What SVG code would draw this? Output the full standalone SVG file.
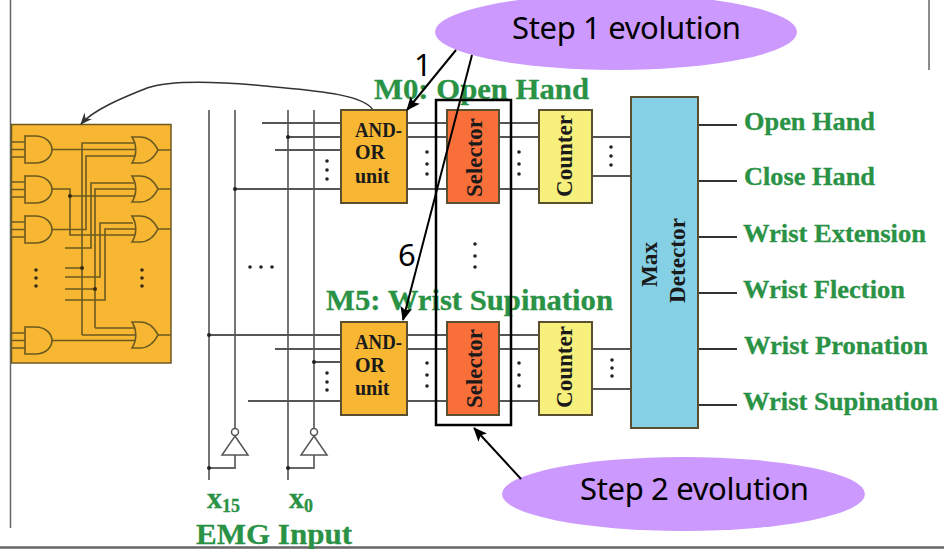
<svg xmlns="http://www.w3.org/2000/svg" width="944" height="549" viewBox="0 0 944 549">
<style>
.w{fill:none;stroke:#555;stroke-width:2}
.v{fill:none;stroke:#666;stroke-width:1.800}
.b{fill:none;stroke:#6b5a20;stroke-width:1.600}
.g{fill:#f7b733;stroke:#6b5a20;stroke-width:1.600}
.box{stroke:#5a5030;stroke-width:2}
.d{fill:#222}
.t{font-family:"Liberation Serif",serif;font-weight:bold;fill:#2a9245;stroke:#2a9245;stroke-width:.3}
.k{font-family:"Liberation Serif",serif;font-weight:bold;fill:#1a1a1a;font-size:20px}
.r{font-family:"Liberation Serif",serif;font-weight:bold;fill:#1a1a1a;font-size:23px}
.s{font-family:"Noto Sans","DejaVu Sans",sans-serif;fill:#000;font-size:31px}
.a{fill:none;stroke:#000;stroke-width:2}
</style>
<defs>
<marker id="ah" markerWidth="14" markerHeight="12" refX="13" refY="6" orient="auto" markerUnits="userSpaceOnUse"><path d="M0,0L14,6L0,12L3,6Z" fill="#000"/></marker>
<marker id="ahs" markerWidth="12" markerHeight="10" refX="11" refY="5" orient="auto" markerUnits="userSpaceOnUse"><path d="M0,0L12,5L0,10L4,5Z" fill="#333"/></marker>
<path id="andg" d="M0,0H10C22,0 27,8 27,13.500C27,19 22,27 10,27H0Z"/>
<path id="org" d="M0,0H8C17,0 23,7 26,13C23,19 17,26 8,26H0C5,18 5,8 0,0Z"/>
</defs>
<rect width="944" height="549" fill="#fff"/>
<g id="frame" fill="none" stroke="#666" stroke-width="1.500">
<path d="M10.500,0V528"/><path d="M929,0V70"/><path d="M0,547.500H944" stroke-width="2.500"/>
</g>
<g id="logic-block">
<rect x="11.500" y="124.500" width="159.500" height="238.500" fill="#f7b733" stroke="#6b5a20" stroke-width="1.500"/>
<g class="b">
<path d="M11,142H25M11,149.500H25M11,157H25M11,182H25M11,189.500H25M11,197H25M11,222H25M11,229.500H25M11,237H25M11,333H25M11,340.500H25M11,348H25"/>
<path d="M52,149.500H135M52,189H70V235H135M52,229.500H86V156H136M52,340.500H135"/>
<path d="M82,335V143H134M82,335H135M65,268H82"/>
<path d="M65,248H91V183H134M95,328V189H136M95,328H134M65,289H95"/>
<path d="M65,277H100V223H133M65,300H105V229H136M70,196H136"/>
<path d="M157,150H171M158,189H171M157,229H171M157,335H171"/>
</g>
<use href="#andg" x="25" y="136" class="g"/><use href="#andg" x="25" y="176" class="g"/><use href="#andg" x="25" y="216" class="g"/><use href="#andg" x="25" y="327" class="g"/>
<use href="#org" x="132" y="137" class="g"/><use href="#org" x="132" y="176" class="g"/><use href="#org" x="132" y="216" class="g"/><use href="#org" x="132" y="322" class="g"/>
<g fill="#3a2a10"><circle cx="70" cy="196" r="2"/><circle cx="82" cy="268" r="2"/><circle cx="95" cy="289" r="2"/>
<circle cx="36" cy="270" r="1.800"/><circle cx="36" cy="278" r="1.800"/><circle cx="36" cy="286" r="1.800"/><circle cx="142" cy="270" r="1.800"/><circle cx="142" cy="278" r="1.800"/><circle cx="142" cy="286" r="1.800"/></g>
</g>
<g id="connectors">
<path class="v" d="M209,110V480M235,110V428M288,110V480M314,110V428"/>
<path class="w" d="M262,123H341M288,137H341M275,150H341M235,189H341"/>
<path class="w" d="M407,123H447M407,137H447M407,189H447M499,123H539M499,137H539M499,189H539M592,137H631M592,176H631"/>
<path class="w" d="M209,335H341M275,349H341M314,362H341M248,401H341"/>
<path class="w" d="M407,335H447M407,349H447M407,401H447M499,335H539M499,349H539M499,401H539M592,349H631M592,389H631"/>
<path class="w" d="M698,125H737M698,181H737M698,237H737M698,293H737M698,349H737M698,405H737" style="stroke:#333"/>
<path class="v" d="M235,455V468H209M314,455V468H288"/>
<g class="d"><circle cx="235" cy="189" r="2"/><circle cx="288" cy="137" r="2"/><circle cx="209" cy="335" r="2"/><circle cx="314" cy="362" r="2"/><circle cx="209" cy="468" r="2"/><circle cx="288" cy="468" r="2"/></g>
<path d="M373,110C362,92 300,90 255,85C220,82 170,80 147,88C130,95 95,108 81,124" fill="none" stroke="#333" stroke-width="1.500" marker-end="url(#ahs)"/>
</g>
<g id="inverter-x15"><path d="M235,436L248,455H222Z" fill="#fff" stroke="#555" stroke-width="1.500"/><circle cx="235" cy="432" r="3.500" fill="#fff" stroke="#555" stroke-width="1.500"/></g>
<g id="inverter-x0"><path d="M314,436L327,455H301Z" fill="#fff" stroke="#555" stroke-width="1.500"/><circle cx="314" cy="432" r="3.500" fill="#fff" stroke="#555" stroke-width="1.500"/></g>
<g id="dots" class="d">
<circle cx="250" cy="267" r="1.800"/><circle cx="261" cy="267" r="1.800"/><circle cx="272" cy="267" r="1.800"/>
<circle cx="327" cy="161" r="1.800"/><circle cx="327" cy="170" r="1.800"/><circle cx="327" cy="179" r="1.800"/>
<circle cx="427" cy="152" r="1.800"/><circle cx="427" cy="164" r="1.800"/><circle cx="427" cy="174" r="1.800"/>
<circle cx="519" cy="152" r="1.800"/><circle cx="519" cy="164" r="1.800"/><circle cx="519" cy="174" r="1.800"/>
<circle cx="611" cy="147" r="1.800"/><circle cx="611" cy="156" r="1.800"/><circle cx="611" cy="165" r="1.800"/>
<circle cx="475" cy="244" r="1.800"/><circle cx="475" cy="256" r="1.800"/><circle cx="475" cy="267" r="1.800"/>
<circle cx="327" cy="373" r="1.800"/><circle cx="327" cy="382" r="1.800"/><circle cx="327" cy="390" r="1.800"/>
<circle cx="427" cy="363" r="1.800"/><circle cx="427" cy="375" r="1.800"/><circle cx="427" cy="386" r="1.800"/>
<circle cx="519" cy="363" r="1.800"/><circle cx="519" cy="375" r="1.800"/><circle cx="519" cy="386" r="1.800"/>
<circle cx="612" cy="360" r="1.800"/><circle cx="612" cy="368" r="1.800"/><circle cx="612" cy="376" r="1.800"/>
</g>
<g id="and-or-0"><rect class="box" x="341" y="110" width="66" height="93" fill="#f7b733"/><text class="k" x="355" y="137" textLength="47" lengthAdjust="spacingAndGlyphs">AND-</text><text class="k" x="355" y="159">OR</text><text class="k" x="355" y="183">unit</text></g>
<g id="selector-0"><rect class="box" x="447" y="110" width="52" height="93" fill="#f96f3a"/><text class="r" textLength="79" lengthAdjust="spacingAndGlyphs" transform="translate(482,197) rotate(-90)">Selector</text></g>
<g id="counter-0"><rect class="box" x="539" y="110" width="53" height="93" fill="#f7f07c"/><text class="r" textLength="82" lengthAdjust="spacingAndGlyphs" transform="translate(572,197) rotate(-90)">Counter</text></g>
<g id="and-or-5"><rect class="box" x="341" y="322" width="66" height="93" fill="#f7b733"/><text class="k" x="355" y="349" textLength="47" lengthAdjust="spacingAndGlyphs">AND-</text><text class="k" x="355" y="372">OR</text><text class="k" x="355" y="395">unit</text></g>
<g id="selector-5"><rect class="box" x="447" y="322" width="52" height="93" fill="#f96f3a"/><text class="r" textLength="79" lengthAdjust="spacingAndGlyphs" transform="translate(482,408) rotate(-90)">Selector</text></g>
<g id="counter-5"><rect class="box" x="539" y="322" width="53" height="93" fill="#f7f07c"/><text class="r" textLength="82" lengthAdjust="spacingAndGlyphs" transform="translate(572,408) rotate(-90)">Counter</text></g>
<g id="max-detector"><rect class="box" x="631" y="97" width="67" height="331" fill="#85d0e4"/><text class="r" textLength="45" lengthAdjust="spacingAndGlyphs" transform="translate(657,287) rotate(-90)">Max</text><text class="r" textLength="85" lengthAdjust="spacingAndGlyphs" transform="translate(685,303) rotate(-90)">Detector</text></g>
<g id="labels">
<text class="t" x="374" y="99" font-size="30" textLength="215" lengthAdjust="spacingAndGlyphs">M0: Open Hand</text>
<text class="t" x="326" y="310" font-size="30" textLength="287" lengthAdjust="spacingAndGlyphs">M5: Wrist Supination</text>
<g font-size="26"><text class="t" x="744" y="130" textLength="131" lengthAdjust="spacingAndGlyphs">Open Hand</text><text class="t" x="744" y="185" textLength="131" lengthAdjust="spacingAndGlyphs">Close Hand</text><text class="t" x="743" y="242" textLength="183" lengthAdjust="spacingAndGlyphs">Wrist Extension</text><text class="t" x="743" y="298" textLength="162" lengthAdjust="spacingAndGlyphs">Wrist Flection</text><text class="t" x="744" y="354" textLength="184" lengthAdjust="spacingAndGlyphs">Wrist Pronation</text><text class="t" x="743" y="410" textLength="195" lengthAdjust="spacingAndGlyphs">Wrist Supination</text></g>
<text class="t" x="207" y="508" font-size="30">x<tspan font-size="18" dy="4">15</tspan></text>
<text class="t" x="289" y="508" font-size="30">x<tspan font-size="18" dy="4">0</tspan></text>
<text class="t" x="196" y="544" font-size="30" textLength="156" lengthAdjust="spacingAndGlyphs">EMG Input</text>
</g>
<rect id="selection-frame" x="436" y="100" width="75" height="325" fill="none" stroke="#000" stroke-width="2.500"/>
<g id="step-1"><ellipse cx="616" cy="32" rx="181" ry="38" fill="#cc99ff"/><text class="s" x="512" y="39" textLength="229">Step 1 evolution</text></g>
<g id="step-2"><ellipse cx="683.500" cy="494" rx="181.500" ry="37" fill="#cc99ff"/><text class="s" x="580" y="500" textLength="229">Step 2 evolution</text></g>
<g id="annotations">
<path class="a" d="M456,50L407,110" marker-end="url(#ah)"/>
<path class="a" d="M472,55L403,320" marker-end="url(#ah)"/>
<path class="a" d="M521,479L474,428" marker-end="url(#ah)"/>
<text class="s" x="414" y="76">1</text>
<text class="s" x="398" y="266">6</text>
</g>
</svg>
